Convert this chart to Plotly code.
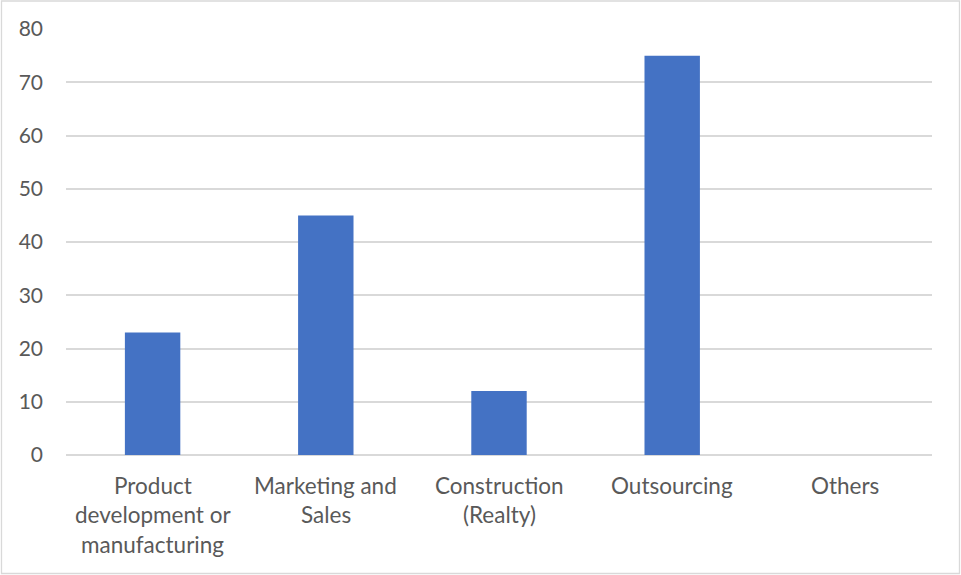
import plotly.graph_objects as go

# Sector values
categories = ["Product development or manufacturing", "Marketing and Sales",
              "Construction (Realty)", "Outsourcing", "Others"]
label_lines = [["Product", "development or", "manufacturing"],
               ["Marketing and", "Sales"],
               ["Construction", "(Realty)"],
               ["Outsourcing"],
               ["Others"]]
values = [23, 45, 12, 75, 0]
y_ticks = [0, 10, 20, 30, 40, 50, 60, 70, 80]

W, H = 961, 575
ML, MR, MT, MB = 66, 29, 29, 120
PW, PH = W - ML - MR, H - MT - MB

TEXT = "#595959"
FONT = "Lato"
FS_TICK = 21
FS_CAT = 22.5

fig = go.Figure(go.Bar(
    x=categories, y=values,
    marker=dict(color="#4472C4", line=dict(width=0)),
    width=0.32,
))

# multi-line category labels, one annotation per line for Excel-like spacing
annotations = []
for cat, lines in zip(categories, label_lines):
    for i, line in enumerate(lines):
        annotations.append(dict(
            x=cat, xref="x", y=0, yref="paper",
            text=line, showarrow=False,
            yanchor="middle", xanchor="center",
            yshift=-(30 + 29.5 * i),
            font=dict(family=FONT, size=FS_CAT, color=TEXT),
        ))

# light outer frame around the whole chart
frame = dict(
    type="rect", xref="paper", yref="paper",
    x0=(1.5 - ML) / PW, x1=(959.5 - ML) / PW,
    y0=-(573.5 - (H - MB)) / PH, y1=1 + (MT - 1) / PH,
    line=dict(color="#D9D9D9", width=1.3), fillcolor="rgba(0,0,0,0)",
    layer="below",
)

fig.update_layout(
    width=W, height=H,
    margin=dict(l=ML, r=MR, t=MT, b=MB),
    paper_bgcolor="white", plot_bgcolor="white",
    showlegend=False,
    font=dict(family=FONT, size=FS_TICK, color=TEXT),
    xaxis=dict(
        type="category", showticklabels=False, showgrid=False,
        showline=False, zeroline=False, ticks="",
    ),
    yaxis=dict(
        range=[0, 80], tickvals=y_ticks, showgrid=True,
        gridcolor="#D9D9D9", gridwidth=1.5, zeroline=True,
        zerolinecolor="#D9D9D9", zerolinewidth=1.5, showline=False,
        ticks="", ticklabelstandoff=22,
        tickfont=dict(family=FONT, size=FS_TICK, color=TEXT),
    ),
    annotations=annotations,
    shapes=[frame],
)

fig.write_html("out.html")
